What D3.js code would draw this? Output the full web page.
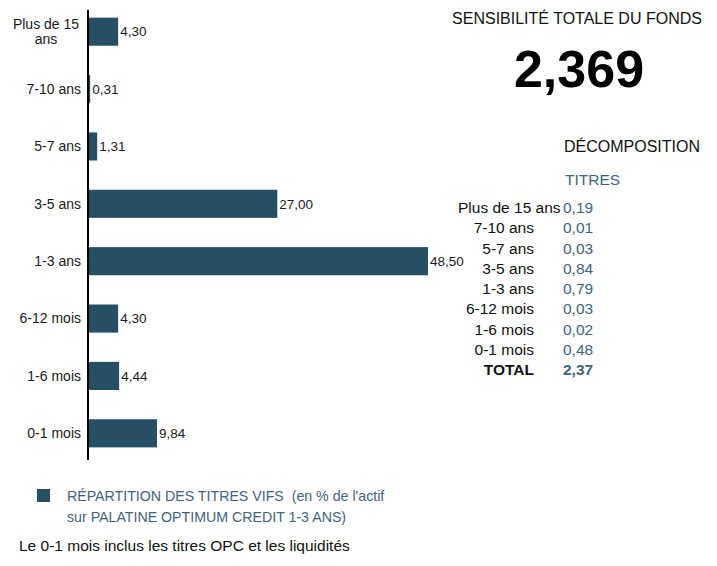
<!DOCTYPE html>
<html>
<head>
<meta charset="utf-8">
<script src="https://cdn.jsdelivr.net/npm/d3@7"></script>
<style>
    body { margin: 0; background: #fff; font-family: "Liberation Sans", Arial, sans-serif; }
    #chart-area { width: 717px; height: 566px; }
    .cat-label { font-size: 14px; fill: #1a1a1a; }
    .bar-label { font-size: 13.5px; fill: #1a1a1a; }
    .head { font-size: 16px; fill: #111; }
    .big { font-size: 52px; font-weight: bold; fill: #000; }
    .titres { font-size: 15.5px; fill: #3e6580; }
    .tbl-label { font-size: 15.5px; fill: #111; }
    .tbl-value { font-size: 15.5px; fill: #3e6580; }
    .legend-text { font-size: 14.2px; fill: #3e6580; white-space: pre; }
    .note { font-size: 15.5px; fill: #111; }
</style>
</head>
<body>
<div id="chart-area"></div>
<script>

// bar data (% de l'actif)
let categories = ["Plus de 15 ans", "7-10 ans", "5-7 ans", "3-5 ans", "1-3 ans", "6-12 mois", "1-6 mois", "0-1 mois"];
let values = [4.30, 0.31, 1.31, 27.00, 48.50, 4.30, 4.44, 9.84];

// sensibility breakdown
let sensLabels = ["Plus de 15 ans", "7-10 ans", "5-7 ans", "3-5 ans", "1-3 ans", "6-12 mois", "1-6 mois", "0-1 mois", "TOTAL"];
let sensValues = [0.19, 0.01, 0.03, 0.84, 0.79, 0.03, 0.02, 0.48, 2.37];
let totalSens = 2.369;

let legendLines = ["RÉPARTITION DES TITRES VIFS  (en % de l'actif", "sur PALATINE OPTIMUM CREDIT 1-3 ANS)"];
let footnote = "Le 0-1 mois inclus les titres OPC et les liquidités";

let fr2 = d => d.toFixed(2).replace(".", ",");
let fr3 = d => d.toFixed(3).replace(".", ",");

class BarVis {

    constructor(parentElement) {
        this.parentElement = parentElement;
        this.barColor = "#264f65";
        this.initVis();
    }

    initVis() {
        let vis = this;

        vis.margin = {top: 3, right: 0, bottom: 0, left: 88};
        vis.width = 717;
        vis.height = 566;

        vis.svg = d3.select("#" + vis.parentElement).append("svg")
            .attr("width", vis.width)
            .attr("height", vis.height);

        vis.g = vis.svg.append("g")
            .attr("transform", `translate(${vis.margin.left}, ${vis.margin.top})`);

        vis.x = d3.scaleLinear()
            .domain([0, 48.5])
            .range([0, 340]);

        vis.y = d3.scaleBand()
            .domain(categories)
            .range([0, 459])
            .paddingInner(0.51)
            .paddingOuter(0.255);

        vis.data = categories.map((c, i) => ({cat: c, val: values[i]}));

        vis.updateVis();
        vis.drawSide();
    }

    updateVis() {
        let vis = this;

        vis.g.selectAll(".bar")
            .data(vis.data)
            .enter().append("rect")
            .attr("class", "bar")
            .attr("x", 0)
            .attr("y", d => vis.y(d.cat))
            .attr("width", d => Math.max(2, vis.x(d.val)))
            .attr("height", vis.y.bandwidth())
            .attr("fill", vis.barColor);

        vis.g.selectAll(".bar-label")
            .data(vis.data)
            .enter().append("text")
            .attr("class", "bar-label")
            .attr("x", d => Math.max(2, vis.x(d.val)) + 2)
            .attr("y", d => vis.y(d.cat) + vis.y.bandwidth() / 2)
            .attr("dy", "0.35em")
            .text(d => fr2(d.val));

        // category labels, wrapped if too long
        vis.g.selectAll(".cat-label")
            .data(vis.data)
            .enter().append("text")
            .attr("class", "cat-label")
            .each(function(d) {
                let t = d3.select(this);
                let cy = vis.y(d.cat) + vis.y.bandwidth() / 2;
                let lines = d.cat === "Plus de 15 ans" ? ["Plus de 15", "ans"] : [d.cat];
                if (lines.length === 1) {
                    t.attr("x", -7).attr("y", cy).attr("dy", "0.35em")
                        .attr("text-anchor", "end").text(lines[0]);
                } else {
                    t.attr("text-anchor", "middle").attr("x", -42);
                    lines.forEach((l, i) => {
                        t.append("tspan")
                            .attr("x", -42)
                            .attr("y", cy + (i - (lines.length - 1) / 2) * 15)
                            .attr("dy", "0.35em")
                            .text(l);
                    });
                }
            });

        // vertical axis line
        vis.g.append("line")
            .attr("x1", 0).attr("x2", 0)
            .attr("y1", 7).attr("y2", 457)
            .attr("stroke", "#000")
            .attr("stroke-width", 2);
    }

    drawSide() {
        let vis = this;
        let s = vis.svg;

        s.append("text").attr("class", "head")
            .attr("x", 577).attr("y", 24).attr("text-anchor", "middle")
            .text("SENSIBILITÉ TOTALE DU FONDS");

        s.append("text").attr("class", "big")
            .attr("x", 579).attr("y", 87).attr("text-anchor", "middle")
            .text(fr3(totalSens));

        s.append("text").attr("class", "head")
            .attr("x", 564).attr("y", 152)
            .text("DÉCOMPOSITION");

        s.append("text").attr("class", "titres")
            .attr("x", 565).attr("y", 185)
            .text("TITRES");

        let rowY = d3.scalePoint()
            .domain(d3.range(sensLabels.length))
            .range([213, 375]);

        let rows = s.selectAll(".tbl-row")
            .data(sensLabels.map((l, i) => ({label: l, val: sensValues[i], i: i})))
            .enter().append("g")
            .attr("class", "tbl-row");

        rows.append("text")
            .attr("class", "tbl-label")
            .attr("y", d => rowY(d.i))
            .style("font-weight", d => d.label === "TOTAL" ? "bold" : null)
            .text(d => d.label)
            .each(function() {
                let w = this.getComputedTextLength();
                d3.select(this).attr("x", Math.max(458, 534 - w));
            });

        rows.append("text")
            .attr("class", "tbl-value")
            .attr("x", 563)
            .attr("y", d => rowY(d.i))
            .style("font-weight", d => d.label === "TOTAL" ? "bold" : null)
            .text(d => fr2(d.val));

        // legend
        s.append("rect")
            .attr("x", 37).attr("y", 489)
            .attr("width", 13).attr("height", 13)
            .attr("fill", vis.barColor);

        s.selectAll(".legend-text")
            .data(legendLines)
            .enter().append("text")
            .attr("class", "legend-text")
            .attr("x", 67)
            .attr("y", (d, i) => 501 + i * 21)
            .text(d => d);

        s.append("text").attr("class", "note")
            .attr("x", 19).attr("y", 551)
            .text(footnote);
    }
}

new BarVis("chart-area");
</script>
</body>
</html>
